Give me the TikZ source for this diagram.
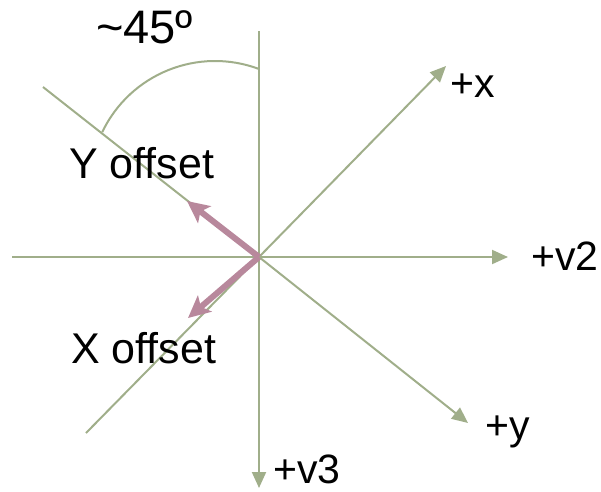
\documentclass[tikz,border=0pt]{standalone}
\usepackage{fontspec}
\setmainfont{Liberation Sans}
\usetikzlibrary{arrows.meta}
\definecolor{axisgreen}{RGB}{160,174,138}
\definecolor{offpink}{RGB}{184,136,156}
\tikzset{
  axis/.style={draw=axisgreen, line width=2pt},
  axisarrow/.style={axis, -{Triangle[length=16pt,width=14pt]}},
  offarrow/.style={draw=offpink, line width=6pt, -{Stealth[length=22pt,width=21pt,inset=5pt]}},
  lbl/.style={inner sep=0pt, anchor=base west, font=\fontsize{41}{48}\selectfont},
  biglbl/.style={inner sep=0pt, anchor=base west, font=\fontsize{43}{50}\selectfont},
}
\begin{document}
\begin{tikzpicture}[x=1pt,y=-1pt]
\useasboundingbox (0,0) rectangle (601,491);
% coordinates
\coordinate (O) at (259,257);
\coordinate (vtop) at (259,31);
\coordinate (vbot) at (259,488);
\coordinate (hleft) at (12,257);
\coordinate (hright) at (508,257);
\coordinate (dlow) at (86,433);
\coordinate (xtip) at (446,66);
\coordinate (dhigh) at (43,87);
\coordinate (ytip) at (468,423);
\coordinate (ytipoff) at (187,201);
\coordinate (xtipoff) at (188,318);
\coordinate (arcstart) at (259,69);
% axes
\draw[axis] (vtop) -- (O);
\draw[axisarrow] (O) -- (vbot);
\draw[axis] (hleft) -- (O);
\draw[axisarrow] (O) -- (hright);
\draw[axis] (dlow) -- (O);
\draw[axisarrow] (O) -- (xtip);
\draw[axis] (dhigh) -- (O);
\draw[axisarrow] (O) -- (ytip);
% angle arc
\draw[axis] (arcstart) arc[start angle=-69.4, end angle=-154.5, radius=125];
% offset arrows
\draw[offarrow] (O) -- (ytipoff);
\draw[offarrow] (O) -- (xtipoff);
% labels
\node[lbl, font=\fontsize{47}{54}\selectfont] (ang) at (96,43) {\textasciitilde 45º};
\node[biglbl] (yoff) at (69,178) {Y offset};
\node[biglbl] (xoff) at (71,363) {X offset};
\node[lbl] (lx) at (450,97) {+x};
\node[lbl] (lv2) at (531,270) {+v2};
\node[lbl] (ly) at (485,439) {+y};
\node[lbl] (lv3) at (273,483) {+v3};
\end{tikzpicture}
\end{document}
